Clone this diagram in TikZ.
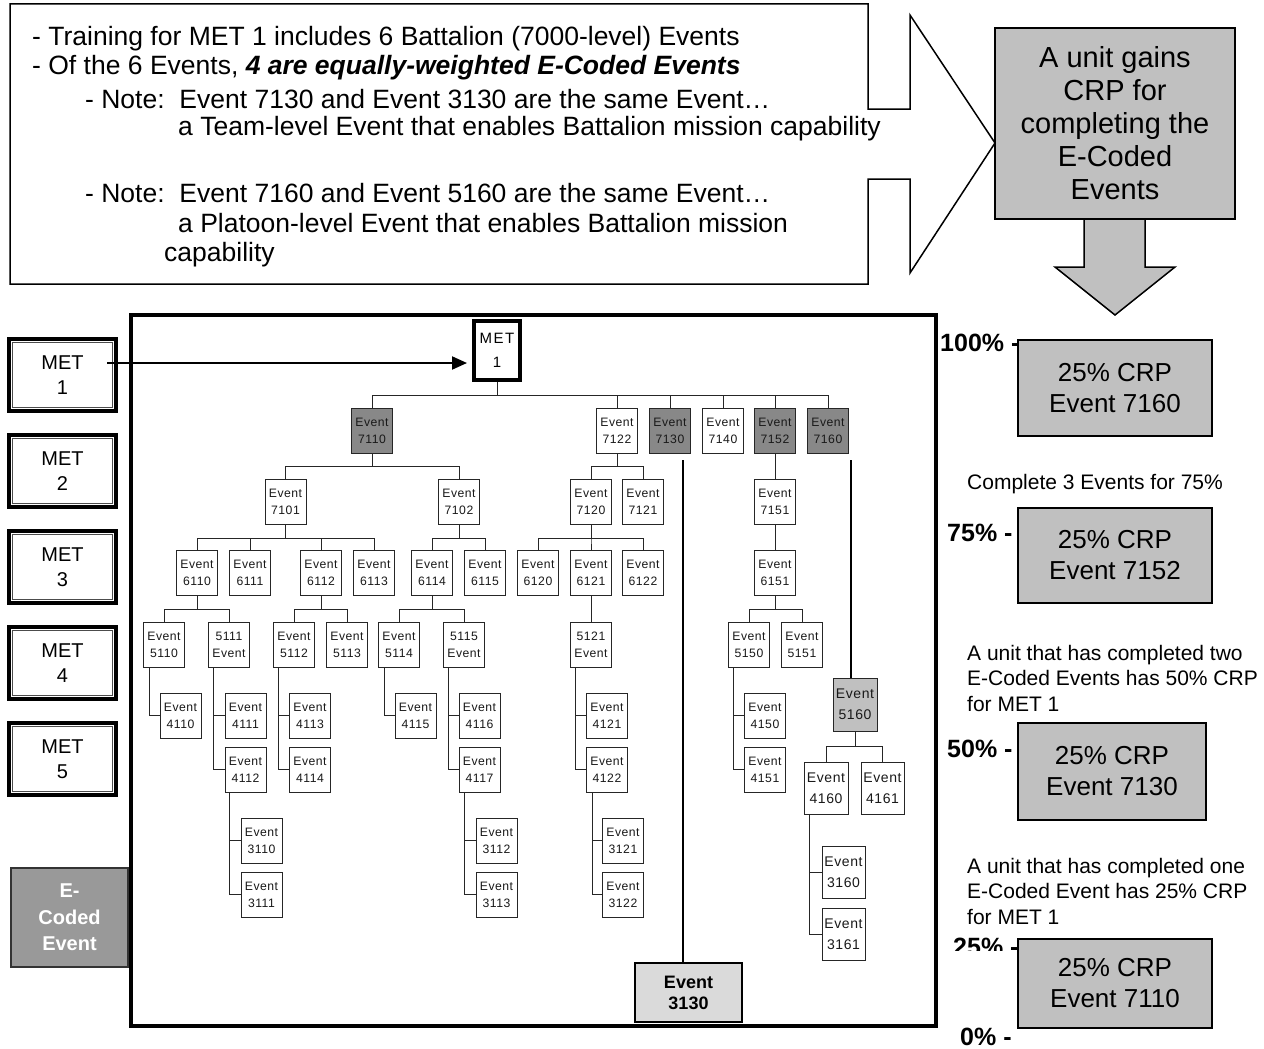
\documentclass[tikz,border=0pt]{standalone}
\usepackage{fontspec}
\setmainfont{Liberation Sans}
\newfontfamily\evfont{Liberation Sans}[LetterSpace=4]
\newfontfamily\metfont{Liberation Sans}[LetterSpace=10]
\usetikzlibrary{arrows.meta}
\definecolor{evdark}{HTML}{888888}
\definecolor{evmid}{HTML}{C0C0C0}
\definecolor{crpgray}{HTML}{C0C0C0}
\definecolor{lightg}{HTML}{DADADA}
\definecolor{ecgray}{HTML}{999999}
\begin{document}
\begin{tikzpicture}[x=1pt,y=-1pt,
  ev/.style={draw=black!85, line width=0.9pt, fill=white, minimum width=41pt, minimum height=45pt, inner sep=0pt, align=center, text=black!90, font=\evfont\fontsize{12.2}{17}\selectfont},
  evg/.style={ev, fill=evdark},
  evb/.style={ev, minimum width=44pt, minimum height=52pt, font=\evfont\fontsize{14}{21}\selectfont},
  metbox/.style={draw, line width=4pt, minimum width=107pt, minimum height=72pt, inner sep=0pt, align=center, fill=white, font=\fontsize{20}{25}\selectfont},
  tl/.style={draw=black!85, line width=0.9pt},
  heavy/.style={draw=black, line width=2pt},
  crp/.style={draw, line width=1.5pt, fill=crpgray, align=center, inner sep=0pt, font=\fontsize{26}{31}\selectfont},
  pct/.style={anchor=west, inner sep=0pt, font=\bfseries\fontsize{25}{30}\selectfont},
  note/.style={anchor=west, inner sep=0pt, font=\fontsize{26.5}{30}\selectfont},
  side/.style={anchor=west, inner sep=0pt, align=left, font=\fontsize{21}{25.5}\selectfont}
]
\useasboundingbox (0,0) rectangle (1264,1049);

% ---------- top-left note box with right arrow ----------
\draw[line width=1.5pt, fill=white] (868,109) -- (868,4) -- (10,4) -- (10,284) -- (868,284) -- (868,179) -- (910,179) -- (910,273) -- (995,143) -- (910,15) -- (910,109) -- cycle;
\node[note] (n1) at (32,39) {- Training for MET 1 includes 6 Battalion (7000-level) Events};
\node[note] (n2) at (32,68) {- Of the 6 Events, \textbf{\textit{4 are equally-weighted E-Coded Events}}};
\node[note] (n3) at (85,99) {- Note:\ \ Event 7130 and Event 3130 are the same Event…};
\node[note] (n4) at (178,129) {a Team-level Event that enables Battalion mission capability};
\node[note] (n5) at (85,193) {- Note:\ \ Event 7160 and Event 5160 are the same Event…};
\node[note] (n6) at (178,223) {a Platoon-level Event that enables Battalion mission};
\node[note] (n7) at (164,255) {capability};

% ---------- top-right gain box with down arrow ----------
\draw[line width=1.5pt, fill=crpgray] (1084,210) -- (1084,267) -- (1055,267) -- (1115,315) -- (1175,267) -- (1145,267) -- (1145,210) -- cycle;
\node[draw, line width=1.5pt, fill=crpgray, minimum width=240pt, minimum height=191pt, inner sep=0pt, align=center, font=\fontsize{29}{33}\selectfont] (gain) at (1115,123.5) {A unit gains\\CRP for\\completing the\\E-Coded\\Events};

% ---------- left MET column ----------
\node[metbox] (m1) at (62.5,375) {MET\\1};
\node[metbox] (m2) at (62.5,471) {MET\\2};
\node[metbox] (m3) at (62.5,567) {MET\\3};
\node[metbox] (m4) at (62.5,663) {MET\\4};
\node[metbox] (m5) at (62.5,759) {MET\\5};
\node[draw=black!80, line width=1.5pt, fill=ecgray, minimum width=117pt, minimum height=99pt, inner sep=0pt, align=center, text=white, font=\bfseries\fontsize{20}{26.5}\selectfont] (ec) at (69.5,917.5) {E-\\Coded\\Event};

% ---------- main tree frame ----------
\draw[line width=4pt] (131,315) rectangle (936,1026);

% ---------- tree nodes ----------
\node[draw, line width=3pt, minimum width=47pt, minimum height=60pt, inner sep=0pt, align=center, fill=white, font=\metfont\fontsize{15}{24}\selectfont] (t1) at (497,350.5) {MET\\1};
\foreach \n in {m1,m2,m3,m4,m5}
  \draw[line width=0.9pt, black!70] ([shift={(5.5,5.5)}]\n.north west) rectangle ([shift={(-5.5,-5.5)}]\n.south east);
\draw[line width=0.8pt] ([shift={(3.8,3.8)}]t1.north west) rectangle ([shift={(-3.8,-3.8)}]t1.south east);

% row 1
\node[evg] (e7110) at (372,430.5) {Event\\7110};
\node[ev]  (e7122) at (617,430.5) {Event\\7122};
\node[evg] (e7130) at (670,430.5) {Event\\7130};
\node[ev]  (e7140) at (723,430.5) {Event\\7140};
\node[evg] (e7152) at (775,430.5) {Event\\7152};
\node[evg] (e7160) at (828,430.5) {Event\\7160};
% row 2
\node[ev] (e7101) at (285.5,501.5) {Event\\7101};
\node[ev] (e7102) at (459,501.5) {Event\\7102};
\node[ev] (e7120) at (591,501.5) {Event\\7120};
\node[ev] (e7121) at (643,501.5) {Event\\7121};
\node[ev] (e7151) at (775,501.5) {Event\\7151};
% row 3
\node[ev] (e6110) at (197,573) {Event\\6110};
\node[ev] (e6111) at (250,573) {Event\\6111};
\node[ev] (e6112) at (321,573) {Event\\6112};
\node[ev] (e6113) at (374,573) {Event\\6113};
\node[ev] (e6114) at (432,573) {Event\\6114};
\node[ev] (e6115) at (485,573) {Event\\6115};
\node[ev] (e6120) at (538,573) {Event\\6120};
\node[ev] (e6121) at (591,573) {Event\\6121};
\node[ev] (e6122) at (643,573) {Event\\6122};
\node[ev] (e6151) at (775,573) {Event\\6151};
% row 4
\node[ev] (e5110) at (164,644.5) {Event\\5110};
\node[ev] (e5111) at (229,644.5) {5111\\Event};
\node[ev] (e5112) at (294,644.5) {Event\\5112};
\node[ev] (e5113) at (347,644.5) {Event\\5113};
\node[ev] (e5114) at (399,644.5) {Event\\5114};
\node[ev] (e5115) at (464,644.5) {5115\\Event};
\node[ev] (e5121) at (591,644.5) {5121\\Event};
\node[ev] (e5150) at (749,644.5) {Event\\5150};
\node[ev] (e5151) at (802,644.5) {Event\\5151};
% row 5
\node[ev] (e4110) at (180.5,715.5) {Event\\4110};
\node[ev] (e4111) at (245.5,715.5) {Event\\4111};
\node[ev] (e4113) at (310,715.5) {Event\\4113};
\node[ev] (e4115) at (415.5,715.5) {Event\\4115};
\node[ev] (e4116) at (479.5,715.5) {Event\\4116};
\node[ev] (e4121) at (607,715.5) {Event\\4121};
\node[ev] (e4150) at (765,715.5) {Event\\4150};
\node[ev] (e4112) at (245.5,769.5) {Event\\4112};
\node[ev] (e4114) at (310,769.5) {Event\\4114};
\node[ev] (e4117) at (479.5,769.5) {Event\\4117};
\node[ev] (e4122) at (607,769.5) {Event\\4122};
\node[ev] (e4151) at (765,769.5) {Event\\4151};
% row 6
\node[ev] (e3110) at (261.5,840.5) {Event\\3110};
\node[ev] (e3112) at (496.5,840.5) {Event\\3112};
\node[ev] (e3121) at (623,840.5) {Event\\3121};
\node[ev] (e3111) at (261.5,894.5) {Event\\3111};
\node[ev] (e3113) at (496.5,894.5) {Event\\3113};
\node[ev] (e3122) at (623,894.5) {Event\\3122};
% big branch under 7160
\node[evb, fill=evmid, minimum height=53pt] (e5160) at (855,704.5) {Event\\5160};
\node[evb] (e4160) at (826,788) {Event\\4160};
\node[evb, minimum width=43pt] (e4161) at (882.5,788) {Event\\4161};
\node[evb, minimum width=43pt] (e3160) at (843.5,872) {Event\\3160};
\node[evb, minimum width=43pt] (e3161) at (843.5,934.5) {Event\\3161};
% Event 3130
\node[draw, line width=2pt, fill=lightg, minimum width=107pt, minimum height=59pt, inner sep=0pt, align=center, font=\bfseries\fontsize{18}{21}\selectfont] (e3130) at (688.5,992.5) {Event\\3130};

% ---------- tree connectors ----------
\foreach \p/\c/\d in {t1/e7110/13, t1/e7122/13, t1/e7130/13, t1/e7140/13, t1/e7152/13, t1/e7160/13,
  e7110/e7101/13, e7110/e7102/13, e7122/e7120/13, e7122/e7121/13,
  e7101/e6110/14, e7101/e6111/14, e7101/e6112/14, e7101/e6113/14,
  e7102/e6114/14, e7102/e6115/14,
  e7120/e6120/14, e7120/e6121/14, e7120/e6122/14,
  e6110/e5110/13, e6110/e5111/13, e6112/e5112/13, e6112/e5113/13,
  e6114/e5114/13, e6114/e5115/13, e6151/e5150/13, e6151/e5151/13,
  e5160/e4160/15, e5160/e4161/15}
  \draw[tl] (\p.south) -- ++(0,\d) -| (\c.north);
\foreach \p/\c in {e6121/e5121, e7152/e7151, e7151/e6151}
  \draw[tl] (\p.south) -- (\c.north);
\foreach \p/\c/\s in {e5110/e4110/15, e5111/e4111/16, e5111/e4112/16, e4112/e3110/16, e4112/e3111/16,
  e5112/e4113/16, e5112/e4114/16, e5114/e4115/15, e5115/e4116/16, e5115/e4117/16,
  e4117/e3112/15, e4117/e3113/15, e5121/e4121/16, e5121/e4122/16, e4122/e3121/15, e4122/e3122/15,
  e5150/e4150/16, e5150/e4151/16, e4160/e3160/17, e4160/e3161/17}
  \draw[tl] ([xshift={-\s pt}]\p.south) |- (\c.west);
\draw[heavy] ([xshift=13pt,yshift=-7pt]e7130.south) -- ([xshift=13pt]e7130.south |- e3130.north);
\draw[heavy] ([xshift=23pt,yshift=-7pt]e7160.south) -- ([xshift=23pt]e7160.south |- e5160.north);

% MET 1 link
\draw[line width=2pt, -{Triangle[length=15pt,width=13pt]}, shorten >=5pt] ([xshift=-11pt,yshift=12pt]m1.east) -- ([yshift=12pt]m1.east -| t1.west);

% ---------- right column ----------
\node[pct] (p100) at (940,343) {100\% -};
\node[pct] (p75) at (947,533) {75\% -};
\node[pct] (p50) at (947,749) {50\% -};
\begin{scope}
  \clip (930,915) rectangle (1018,950);
  \node[pct] (p25) at (953,947) {25\% -};
\end{scope}
\node[pct] (p0) at (960,1037) {0\% -};

\node[crp, minimum width=194pt, minimum height=96pt] (r1) at (1115,388) {25\% CRP\\Event 7160};
\node[crp, minimum width=194pt, minimum height=95pt] (r2) at (1115,555.5) {25\% CRP\\Event 7152};
\node[crp, minimum width=188pt, minimum height=97pt] (r3) at (1112,771.5) {25\% CRP\\Event 7130};
\node[crp, minimum width=194pt, minimum height=89pt] (r4) at (1115,983.5) {25\% CRP\\Event 7110};

\node[side] (s1) at (967,484) {Complete 3 Events for 75\%};
\node[side] (s2) at (967,678) {A unit that has completed two\\E-Coded Events has 50\% CRP\\for MET 1};
\node[side] (s3) at (967,891) {A unit that has completed one\\E-Coded Event has 25\% CRP\\for MET 1};
\end{tikzpicture}
\end{document}
